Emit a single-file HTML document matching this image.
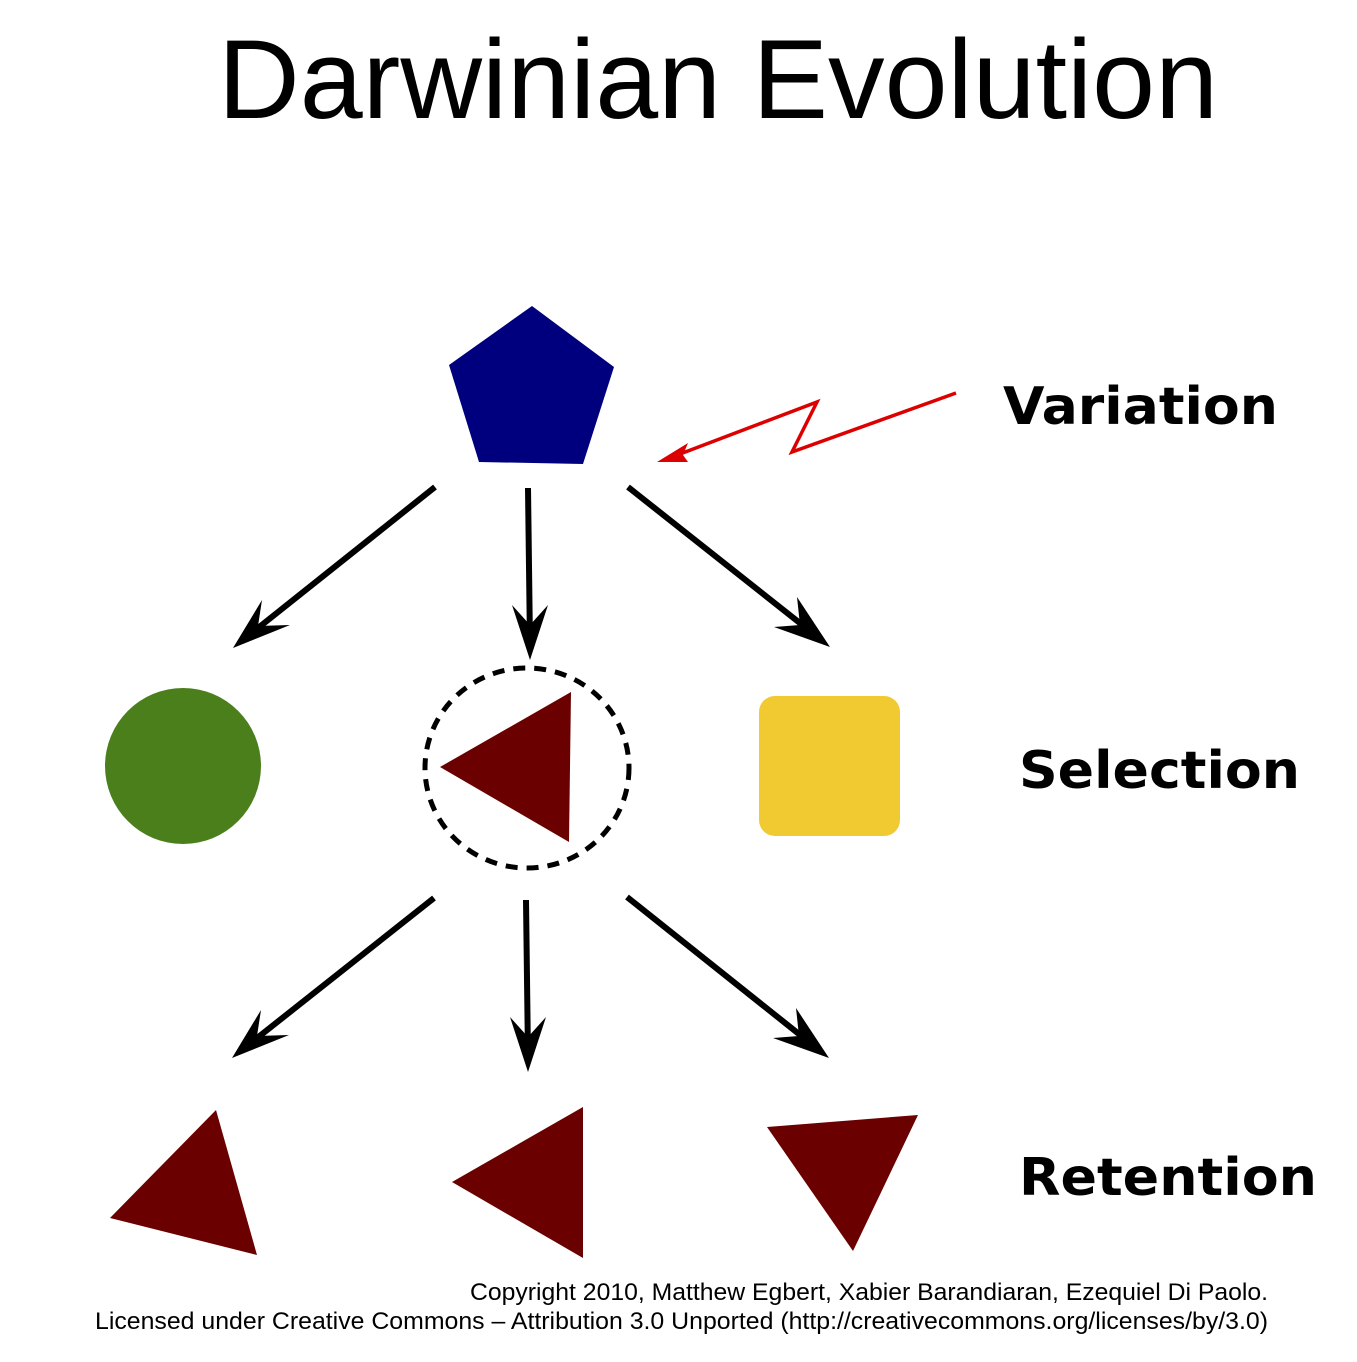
<!DOCTYPE html>
<html><head><style>html,body{margin:0;padding:0;background:#fff}</style></head>
<body>
<svg width="1357" height="1357" viewBox="0 0 1357 1357" xmlns="http://www.w3.org/2000/svg">
<text x="218" y="118" font-family="Liberation Sans, sans-serif" font-size="112" textLength="1000" lengthAdjust="spacingAndGlyphs">Darwinian Evolution</text>
<polygon points="532,306 614,367 583,464 479,462 449,365" fill="#00007f"/>
<polyline points="956,393 792,452 817,402 680,454" fill="none" stroke="#dd0000" stroke-width="3.5"/>
<polygon points="657,462 688,443 683,455 688,462" fill="#dd0000"/>
<g stroke="#000" stroke-width="6" fill="none">
<line x1="435" y1="487" x2="248" y2="636"/>
<line x1="528" y1="488" x2="530" y2="645"/>
<line x1="628" y1="487" x2="815" y2="635"/>
<line x1="434" y1="898" x2="247" y2="1046"/>
<line x1="526" y1="900" x2="528" y2="1057"/>
<line x1="627" y1="897" x2="814" y2="1046"/>
</g>
<g fill="#000">
<polygon points="233,648 262,600 258,626 290,625"/>
<polygon points="530,660 512,605 530,625 548,605"/>
<polygon points="830,647 774,627 800,625 797,597"/>
<polygon points="232,1058 261,1010 257,1036 289,1035"/>
<polygon points="528,1072 510,1017 528,1037 546,1017"/>
<polygon points="829,1058 773,1038 799,1036 796,1008"/>
</g>
<circle cx="183" cy="766" r="78" fill="#4a7f1c"/>
<ellipse cx="527" cy="768" rx="102" ry="100" fill="none" stroke="#000" stroke-width="5" stroke-dasharray="12,9"/>
<polygon points="440,767 571,692 569,842" fill="#6b0000"/>
<rect x="759" y="696" width="141" height="140" rx="16" fill="#f1c931"/>
<polygon points="110,1218 216,1110 257,1255" fill="#6b0000"/>
<polygon points="452,1182 583,1107 583,1258" fill="#6b0000"/>
<polygon points="767,1127 918,1115 853,1251" fill="#6b0000"/>
<g font-family="DejaVu Sans, sans-serif" font-weight="bold" font-size="52">
<text x="1003" y="424" textLength="275" lengthAdjust="spacingAndGlyphs">Variation</text>
<text x="1019" y="788" textLength="281" lengthAdjust="spacingAndGlyphs">Selection</text>
<text x="1019" y="1195" textLength="298" lengthAdjust="spacingAndGlyphs">Retention</text>
</g>
<g font-family="Liberation Sans, sans-serif" font-size="24">
<text x="470" y="1300" textLength="798" lengthAdjust="spacingAndGlyphs">Copyright 2010, Matthew Egbert, Xabier Barandiaran, Ezequiel Di Paolo.</text>
<text x="95" y="1329" textLength="1173" lengthAdjust="spacingAndGlyphs">Licensed under Creative Commons – Attribution 3.0 Unported (http://creativecommons.org/licenses/by/3.0)</text>
</g>
</svg>
</body></html>
